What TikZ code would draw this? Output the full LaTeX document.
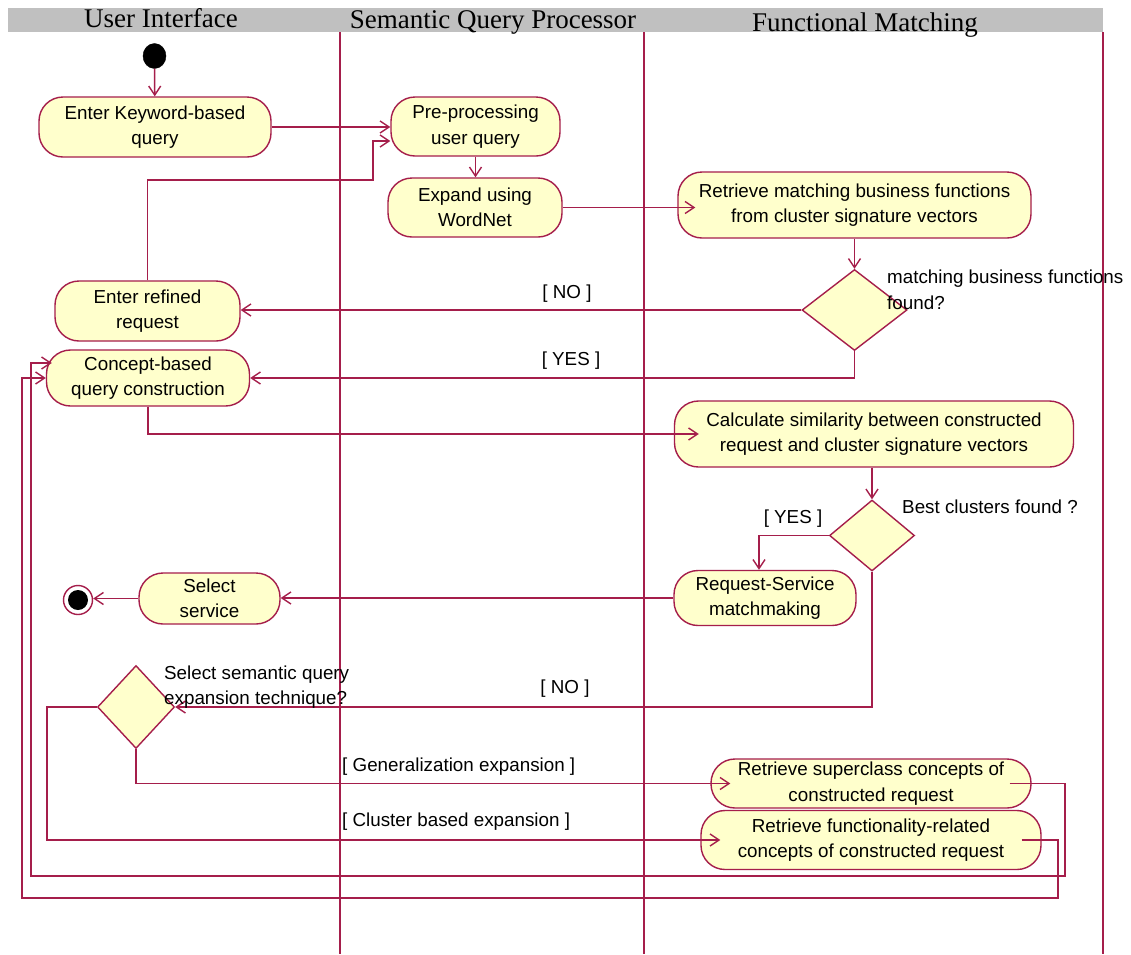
\documentclass[tikz,border=0pt]{standalone}
\usepackage{fontspec}
\setmainfont{Liberation Sans}
\newfontfamily\hdrfont{Liberation Serif}
\usetikzlibrary{shapes.geometric,arrows.meta}
\definecolor{lc}{RGB}{165,30,75}
\definecolor{nf}{RGB}{255,255,204}
\definecolor{hg}{RGB}{192,192,192}
\begin{document}
\begin{tikzpicture}[x=1pt,y=-1pt,
  act/.style={draw=lc, fill=nf, line width=1.4pt, rounded corners=24pt, align=center, inner sep=0pt, font=\fontsize{18.8}{25.5}\selectfont},
  dec/.style={draw=lc, fill=nf, line width=1.4pt, diamond, inner sep=0pt},
  arr/.style={draw=lc, line width=1.5pt, -{Straight Barb[length=9pt,width=12pt,line width=1.4pt]}},
  ln/.style={draw=lc, line width=1.5pt},
  lbl/.style={inner sep=0pt, font=\fontsize{18.8}{25.5}\selectfont, align=left},
  hdr/.style={inner sep=0pt, font=\hdrfont\fontsize{27}{30}\selectfont, anchor=base}]
\useasboundingbox[fill=white] (0,0) rectangle (1131,954);
% header
\fill[hg] (8,8) rectangle (1103,32);
\node[hdr] (h1) at (161,27) {User Interface};
\node[hdr] (h2) at (493,28) {Semantic Query Processor};
\node[hdr] (h3) at (865,31) {Functional Matching};
% lanes
\draw[ln] (340,32) -- (340,954);
\draw[ln] (644,32) -- (644,954);
\draw[ln] (1103,32) -- (1103,954);
% nodes
\node[ellipse, fill=black, draw=black, minimum width=23pt, minimum height=25pt, inner sep=0pt] (start) at (154.5,56) {};
\node[act, minimum width=232pt, minimum height=60pt] (kw) at (155,127) {Enter Keyword-based\\query};
\node[act, minimum width=169pt, minimum height=59pt] (pre) at (475.5,126.5) {Pre-processing\\user query};
\node[act, minimum width=174pt, minimum height=59pt] (exp) at (475,207.5) {Expand using\\WordNet};
\node[act, minimum width=353pt, minimum height=66pt] (rmbf) at (854.5,205) {Retrieve matching business functions\\from cluster signature vectors};
\node[dec, minimum width=105pt, minimum height=81pt] (d1) at (854.5,310) {};
\node[act, minimum width=185pt, minimum height=60pt] (refined) at (147.5,311) {Enter refined\\request};
\node[act, minimum width=203pt, minimum height=56pt] (concept) at (148,378) {Concept-based\\query construction};
\node[act, minimum width=399pt, minimum height=66pt] (calc) at (874,434) {Calculate similarity between constructed\\request and cluster signature vectors};
\node[dec, minimum width=85pt, minimum height=71pt] (d2) at (872,535.5) {};
\node[act, minimum width=182pt, minimum height=55pt] (rsm) at (765,598) {Request-Service\\matchmaking};
\node[act, minimum width=141pt, minimum height=51pt] (sel) at (209.5,598.5) {Select\\service};
\node[circle, draw=lc, fill=white, line width=1.4pt, minimum size=29pt, inner sep=0pt] (end) at (78,600) {};
\fill[black] (end.center) circle (10pt);
\node[dec, minimum width=77pt, minimum height=83pt] (d3) at (136,707) {};
\node[act, minimum width=320pt, minimum height=49pt] (sup) at (871,783.5) {Retrieve superclass concepts of\\constructed request};
\node[act, minimum width=340pt, minimum height=59pt] (func) at (871,840) {Retrieve functionality-related\\concepts of constructed request};
% edges
\draw[arr] (start) -- (kw);
\draw[arr] (kw.east) -- (kw.east -| pre.west);
\coordinate (r1) at (373,180);
\draw[arr] (refined.north) |- (r1) |- ([yshift=-14.5pt]pre.west);
\draw[arr] (pre.south) -- (pre.south |- exp.north);
\draw[arr] (exp.east) -- ([xshift=18pt,yshift=-2.5pt]rmbf.west);
\draw[arr] (rmbf.south) -- (d1.north);
\draw[arr] (d1.west) -- (d1.west -| refined.east);
\draw[arr] (d1.south) |- (concept.east);
\draw[arr] (concept.south) |- ([xshift=25pt]calc.west);
\draw[arr] (d2.north |- calc.south) -- (d2.north);
\draw[arr] (d2.west) -| ([xshift=-6pt]rsm.north);
\draw[arr] (rsm.west) -- (rsm.west -| sel.east);
\draw[arr] (sel.west) -- (sel.west -| end.east);
\draw[arr] (d2.south) |- (d3.east);
\draw[arr] (d3.south) |- ([xshift=20pt]sup.west);
\coordinate (k1) at (47,840);
\draw[arr] (d3.west) -| (k1) -- ([xshift=20pt]func.west);
\coordinate (s1) at (1065,876);
\coordinate (s2) at (31,363);
\draw[arr] ([xshift=-22pt]sup.east) -| (s1) -| (s2) -- ([xshift=6pt,yshift=15pt]concept.west);
\coordinate (f1) at (1058,898);
\coordinate (f2) at (22,378);
\draw[arr] ([xshift=-20pt]func.east) -| (f1) -| (f2) -- (concept.west);
% labels
\node[lbl] (lno1) at (567,294) {[ NO ]};
\node[lbl] (lyes1) at (571,361) {[ YES ]};
\node[lbl, anchor=west] (ld1) at (887,290) {matching business functions\\found?};
\node[lbl, anchor=west] (ld2) at (902,507) {Best clusters found ?};
\node[lbl] (lyes2) at (793,519) {[ YES ]};
\node[lbl] (lno2) at (565,689) {[ NO ]};
\node[lbl, anchor=west] (ld3) at (164,687) {Select semantic query\\expansion technique?};
\node[lbl, anchor=west] (lgen) at (342,767) {[ Generalization expansion ]};
\node[lbl, anchor=west] (lclu) at (342,822) {[ Cluster based expansion ]};
\end{tikzpicture}
\end{document}
